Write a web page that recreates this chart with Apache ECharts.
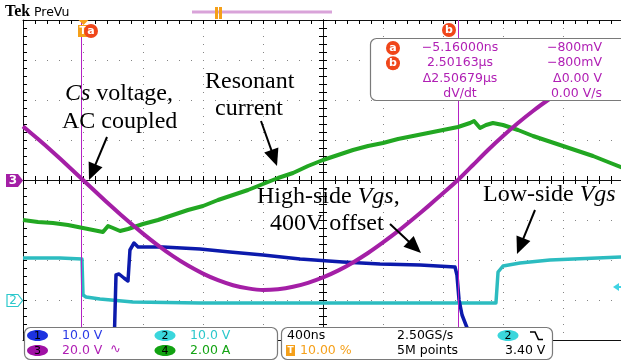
<!DOCTYPE html>
<html>
<head>
<meta charset="utf-8">
<script src="https://cdn.jsdelivr.net/npm/echarts@6/dist/echarts.min.js"></script>
<style>
  html, body { margin: 0; padding: 0; background: #fff; }
  #scope { width: 621px; height: 362px; }
</style>
</head>
<body>
<div id="scope"></div>
<script>
// Horizontal: 400 ns/div, 10 divisions, trigger at 10 % of record (µs)
const timeMin = -0.4, timeMax = 3.6, timeDiv = 0.4;

// Ch3 – Cs voltage, AC coupled, 20 V/div
const csTime  = [-0.4,-0.3,-0.2,-0.1,0,0.1,0.2,0.3,0.4,0.5,0.6,0.7,0.8,0.9,1.0,1.1,1.2,1.3,1.4,1.5,1.6,1.7,1.8,1.9,2.0,2.1,2.2,2.3,2.4,2.5,2.6,2.7,2.8,2.9,3.0,3.1,3.2,3.3,3.4,3.5,3.6];
const csVolts = [26.8,20.5,13.9,7.0,0,-7.0,-13.9,-20.5,-26.8,-32.7,-38.1,-42.8,-46.8,-50.1,-52.6,-54.2,-55.0,-54.6,-53.4,-51.4,-48.7,-45.3,-41.2,-36.5,-31.2,-25.6,-19.5,-13.2,-6.6,0,7.5,15,22,28.5,34.5,40,44.5,48.5,51.5,54,55.5];

// Ch4 – resonant current, 2 A/div
const currentTime = [-0.4,-0.3,-0.2,-0.1,0,0.1,0.133,0.167,0.2,0.247,0.3,0.4,0.5,0.6,0.7,0.8,0.9,1.0,1.1,1.2,1.3,1.4,1.5,1.6,1.7,1.8,1.9,2.0,2.1,2.2,2.3,2.4,2.5,2.58,2.607,2.647,2.687,2.733,2.8,2.9,3.0,3.1,3.2,3.3,3.4,3.5,3.6];
const currentAmps = [-2.0,-2.1,-2.15,-2.25,-2.4,-2.55,-2.6,-2.3,-2.4,-2.55,-2.45,-2.2,-2.0,-1.75,-1.5,-1.3,-1.0,-0.75,-0.5,-0.2,0.1,0.35,0.7,1.0,1.25,1.5,1.7,1.85,2.05,2.2,2.35,2.5,2.65,2.85,2.95,2.6,2.75,2.85,2.75,2.5,2.2,1.95,1.7,1.45,1.2,0.9,0.6];

// Ch1 – high-side Vgs (400 V offset), 10 V/div
const highTime  = [-0.4,0.207,0.22,0.24,0.273,0.3,0.313,0.34,0.367,0.533,0.78,0.98,1.2,1.447,1.733,1.98,2.247,2.48,2.493,2.507,2.527,2.553,2.593,2.62,3.6];
const highVolts = [-7,-7,11.25,11.5,10.5,9.75,17.5,19.25,18.25,18.25,17.75,17,16.25,15.25,14.5,14,13.75,13.25,11.25,5,1.25,-1.25,-5,-7,-7];

// Ch2 – low-side Vgs, 10 V/div
const lowTime  = [-0.4,-0.153,-0.007,0,0.02,0.113,0.333,0.78,1.447,2.113,2.753,2.767,2.8,2.913,3.113,3.6];
const lowVolts = [10.5,10.5,10.25,1.25,0.75,0.25,-0.5,-0.75,-0.75,-0.75,-0.75,7,8.5,9.25,10,10.75];

// Cursor positions (µs)
const cursorTimes = [-0.00516, 2.50163];

// Readout texts
const cursorRows = [
  ['a', '\u22125.16000ns', '\u2212800mV'],
  ['b', '2.50163\u00b5s', '\u2212800mV'],
  ['',  '\u03942.50679\u00b5s', '\u03940.00 V'],
  ['',  'dV/dt', '0.00 V/s']
];

const C = {
  ch1: '#0c1aac', ch2: '#2cbcc0', ch3: '#a41fa6', ch4: '#22a722',
  ch1Txt: '#2a3ae6', ch2Txt: '#2cc8cc', ch3Txt: '#b01fb4', ch4Txt: '#14a414',
  cursor: '#b422c4', orange: '#f5a01a', marker: '#f0461a', dot: '#858585'
};

const zip = (a, b) => a.map((v, i) => [v, b[i]]);

const chart = echarts.init(document.getElementById('scope'), null, { renderer: 'canvas' });

const noLabel = { show: false };
const hiddenX = (g) => ({ gridIndex: g, type: 'value', min: 0, max: 1, show: false });
const hiddenY = (g) => ({ gridIndex: g, type: 'value', min: 0, max: 1, show: false });

const serif = "'Liberation Serif', 'Times New Roman', serif";
const sans = "'DejaVu Sans', sans-serif";

// --- graphic elements: annotations, markers, readouts ---
const g = [];
function arrow(x1, y1, x2, y2) {
  const dx = x2 - x1, dy = y2 - y1, L = Math.hypot(dx, dy);
  const ux = dx / L, uy = dy / L, hl = 17, hw = 7.5;
  const bx = x2 - ux * hl, by = y2 - uy * hl;
  g.push({ type: 'line', z: 50, shape: { x1, y1, x2: bx + ux * 2, y2: by + uy * 2 }, style: { stroke: '#000', lineWidth: 2 } });
  g.push({ type: 'polygon', z: 50, shape: { points: [[x2, y2], [bx - uy * hw, by + ux * hw], [bx + uy * hw, by - ux * hw]] }, style: { fill: '#000' } });
}
function label(x, y, parts) {
  const rich = {
    n: { fontFamily: serif, fontSize: 24, fill: '#000' },
    i: { fontFamily: serif, fontSize: 24, fontStyle: 'italic', fill: '#000' }
  };
  g.push({ type: 'text', z: 50, style: { x, y, text: parts, rich, verticalAlign: 'middle', align: 'left', font: '24px ' + serif } });
}
function txt(x, y, s, color, opts) {
  g.push(Object.assign({ type: 'text', z: 120, style: Object.assign({ x, y, text: s, fill: color, font: '12.5px ' + sans, verticalAlign: 'middle', align: 'left' }, opts || {}) }));
}
function circleMark(cx, cy, ch) {
  g.push({ type: 'circle', z: 120, shape: { cx, cy, r: 7 }, style: { fill: C.marker } });
  txt(cx, cy, ch, '#fff', { align: 'center', font: 'bold 11px ' + sans });
}
function badge(cx, cy, n, fill, color) {
  g.push({ type: 'ellipse', z: 120, shape: { cx, cy, rx: 10.5, ry: 5.5 }, style: { fill } });
  txt(cx, cy + 0.5, n, color || '#000', { align: 'center', font: '11px ' + sans });
}

// Annotations
label(65, 94, '{i|Cs}{n| voltage,}');
label(62, 122, '{n|AC coupled}');
arrow(107, 137, 89, 180);
label(205, 82, '{n|Resonant}');
label(215, 109, '{n|current}');
arrow(261, 121, 277, 166);
label(257, 197, '{n|High-side }{i|Vgs}{n|,}');
label(270, 224, '{n|400V offset}');
arrow(390, 224, 421, 253);
label(483, 195, '{n|Low-side }{i|Vgs}');
arrow(535, 210, 517, 254);

// Header
g.push({ type: 'text', z: 120, style: { x: 5, y: 12, text: 'Tek', fill: '#000', font: 'bold 16px ' + serif, verticalAlign: 'middle' } });
txt(34, 13, 'PreVu', '#000', { font: '12.5px ' + sans });
g.push({ type: 'line', z: 120, shape: { x1: 192, y1: 12, x2: 332, y2: 12 }, style: { stroke: '#d9a3d9', lineWidth: 3 } });
g.push({ type: 'rect', z: 121, shape: { x: 215, y: 7, width: 3, height: 12 }, style: { fill: C.orange } });
g.push({ type: 'rect', z: 121, shape: { x: 219, y: 7, width: 3, height: 12 }, style: { fill: C.orange } });

// Trigger position marker and cursor flags
g.push({ type: 'polygon', z: 120, shape: { points: [[78.5, 20], [88.5, 20], [83.5, 25]] }, style: { fill: C.orange } });
g.push({ type: 'rect', z: 120, shape: { x: 78, y: 25, width: 10, height: 12 }, style: { fill: C.orange } });
txt(83, 31, 'T', '#fff', { align: 'center', font: 'bold 10px ' + sans });
circleMark(91, 31, 'a');
circleMark(449, 30, 'b');

// Channel ground markers
g.push({ type: 'polygon', z: 120, shape: { points: [[6, 174], [18, 174], [23, 180.5], [18, 187], [6, 187]] }, style: { fill: C.ch3 } });
txt(13, 181, '3', '#fff', { align: 'center', font: 'bold 12px ' + sans });
g.push({ type: 'polygon', z: 120, shape: { points: [[7, 294.5], [18, 294.5], [22.5, 300.5], [18, 306.5], [7, 306.5]] }, style: { fill: '#fff', stroke: C.ch2Txt, lineWidth: 1.2 } });
txt(13, 301, '2', C.ch2Txt, { align: 'center', font: '12px ' + sans });

// Trigger level
g.push({ type: 'polygon', z: 120, shape: { points: [[613, 287], [619, 283], [619, 291]] }, style: { fill: '#3fd3e3' } });
g.push({ type: 'line', z: 120, shape: { x1: 618, y1: 287, x2: 621, y2: 287 }, style: { stroke: '#3fd3e3', lineWidth: 2 } });

// Cursor readout box
g.push({ type: 'rect', z: 110, shape: { x: 370.5, y: 38.5, width: 262, height: 62, r: 6 }, style: { fill: '#fff', stroke: '#7a7a7a', lineWidth: 1.2 } });
cursorRows.forEach((row, i) => {
  const y = 48 + i * 15.2;
  if (row[0]) circleMark(393, y, row[0]);
  txt(460, y, row[1], C.ch3Txt, { align: 'center' });
  txt(602, y, row[2], C.ch3Txt, { align: 'right' });
});

// Bottom panels
g.push({ type: 'rect', z: 110, shape: { x: 24.5, y: 327.5, width: 253, height: 32, r: 6 }, style: { fill: '#fff', stroke: '#7a7a7a', lineWidth: 1.2 } });
g.push({ type: 'rect', z: 110, shape: { x: 281.5, y: 327.5, width: 271, height: 32, r: 6 }, style: { fill: '#fff', stroke: '#7a7a7a', lineWidth: 1.2 } });
badge(37.5, 335.5, '1', '#1c32e0');
txt(62, 336, '10.0 V', C.ch1Txt);
badge(165, 335.5, '2', '#3ad6dc');
txt(190, 336, '10.0 V', C.ch2Txt);
badge(37.5, 350.5, '3', '#a010a4');
txt(62, 351, '20.0 V', C.ch3Txt);
txt(110, 350, '\u223f', C.ch3Txt, { font: '13px ' + sans });
badge(165, 350.5, '4', '#12a212');
txt(190, 351, '2.00 A', C.ch4Txt);

txt(287, 336, '400ns', '#000');
txt(397, 336, '2.50GS/s', '#000');
badge(508, 335.5, '2', '#3ad6dc');
g.push({ type: 'polyline', z: 120, shape: { points: [[530, 332], [535, 332], [538.5, 339.5], [543, 339.5]] }, style: { stroke: '#000', lineWidth: 1.6, fill: null } });
g.push({ type: 'rect', z: 120, shape: { x: 286, y: 345, width: 9, height: 11 }, style: { fill: C.orange } });
txt(290.5, 350.5, 'T', '#fff', { align: 'center', font: 'bold 9px ' + sans });
txt(300, 351, '10.00 %', C.orange);
txt(397, 351, '5M points', '#000');
txt(505, 351, '3.40 V', '#000');

// --- graticule axes ---
const dotV = { show: true, lineStyle: { color: C.dot, width: 1, type: [1, 7] } };
const dotH = { show: true, lineStyle: { color: C.dot, width: 1, type: [1, 11] } };
const border = { show: true, onZero: false, lineStyle: { color: '#111', width: 1 } };
const ticks = { show: true, inside: true, length: 4, lineStyle: { color: '#000', width: 1 } };
const minor = { show: true, splitNumber: 5, length: 4, lineStyle: { color: '#000', width: 1 } };
const divAxis = { type: 'value', min: -4, max: 4, interval: 1, axisLabel: noLabel };
const timeAxis = { type: 'value', min: timeMin, max: timeMax, interval: timeDiv, axisLabel: noLabel };

const option = {
  animation: false,
  backgroundColor: '#fff',
  grid: [
    { left: 23, top: 20, width: 600, height: 320, outerBoundsMode: 'none', containLabel: false },
    { left: 23, top: 20, width: 600, height: 160, outerBoundsMode: 'none' },
    { left: 23, top: 180, width: 600, height: 160, outerBoundsMode: 'none' },
    { left: 23, top: 20, width: 300, height: 320, outerBoundsMode: 'none' },
    { left: 323, top: 20, width: 300, height: 320, outerBoundsMode: 'none' }
  ],
  xAxis: [
    Object.assign({}, timeAxis, { gridIndex: 0, position: 'top', axisLine: border, axisTick: ticks, minorTick: minor, splitLine: dotV }),
    Object.assign({}, timeAxis, { gridIndex: 0, position: 'bottom', axisLine: border, axisTick: { show: false }, splitLine: { show: false } }),
    Object.assign({}, timeAxis, { gridIndex: 1, position: 'bottom', axisLine: border, axisTick: ticks, minorTick: minor, splitLine: { show: false } }),
    Object.assign({}, timeAxis, { gridIndex: 2, position: 'top', axisLine: border, axisTick: ticks, minorTick: minor, splitLine: { show: false } }),
    hiddenX(3),
    hiddenX(4)
  ],
  yAxis: [
    Object.assign({}, divAxis, { gridIndex: 0, position: 'left', axisLine: border, axisTick: ticks, minorTick: minor, splitLine: dotH }),
    { gridIndex: 0, type: 'value', min: -5, max: 75, show: false },   // ch1 volts
    { gridIndex: 0, type: 'value', min: -10, max: 70, show: false },  // ch2 volts
    { gridIndex: 0, type: 'value', min: -80, max: 80, show: false },  // ch3 volts
    { gridIndex: 0, type: 'value', min: -8, max: 8, show: false },    // ch4 amps
    hiddenY(1),
    hiddenY(2),
    Object.assign({}, divAxis, { gridIndex: 3, position: 'right', axisLine: border, axisTick: ticks, minorTick: minor, splitLine: { show: false } }),
    Object.assign({}, divAxis, { gridIndex: 4, position: 'left', axisLine: border, axisTick: ticks, minorTick: minor, splitLine: { show: false } })
  ],
  series: [
    { name: 'Ch2', type: 'line', xAxisIndex: 0, yAxisIndex: 2, data: zip(lowTime, lowVolts), symbol: 'none', clip: true, z: 3,
      lineStyle: { color: C.ch2, width: 3.5, join: 'round' } },
    { name: 'Ch1', type: 'line', xAxisIndex: 0, yAxisIndex: 1, data: zip(highTime, highVolts), symbol: 'none', clip: true, z: 4,
      lineStyle: { color: C.ch1, width: 3.5, join: 'round' } },
    { name: 'Ch4', type: 'line', xAxisIndex: 0, yAxisIndex: 4, data: zip(currentTime, currentAmps), symbol: 'none', clip: true, z: 5,
      lineStyle: { color: C.ch4, width: 4, join: 'round' } },
    { name: 'Ch3', type: 'line', xAxisIndex: 0, yAxisIndex: 3, data: zip(csTime, csVolts), symbol: 'none', clip: true, z: 6,
      smooth: 0.2,
      lineStyle: { color: C.ch3, width: 4, join: 'round' },
      markLine: {
        silent: true, symbol: ['none', 'none'], animation: false,
        label: { show: false },
        lineStyle: { color: C.cursor, width: 1, type: 'solid' },
        data: cursorTimes.map(t => ({ xAxis: t }))
      } }
  ],
  graphic: { elements: g }
};

chart.setOption(option);
</script>
</body>
</html>
